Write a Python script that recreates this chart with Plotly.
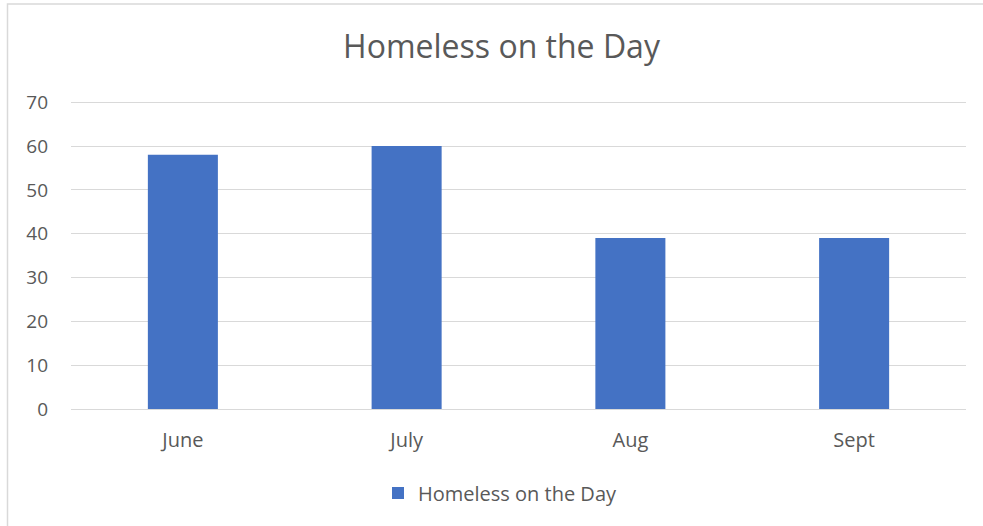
import plotly.graph_objects as go

months = ["June", "July", "Aug", "Sept"]
homeless = [58, 60, 39, 39]
series_name = "Homeless on the Day"
y_ticks = [0, 10, 20, 30, 40, 50, 60, 70]

W, H = 983, 526
L, R, T, B = 71, 17, 100.3, 117
pw = W - L - R
ph = H - T - B

def px_x(x):
    return (x - L) / pw

def px_y(y):
    return (H - B - y) / ph

font = "Open Sans"
grey = "#595959"

fig = go.Figure()
fig.add_trace(go.Bar(x=months, y=homeless, name=series_name,
                     marker=dict(color="#4472c4", line=dict(width=0))))

fig.update_layout(
    width=W, height=H,
    margin=dict(l=L, r=R, t=T, b=B),
    paper_bgcolor="white", plot_bgcolor="white",
    bargap=0.687,
    showlegend=True,
    title=dict(text="Homeless on the Day", x=501.5 / W, xanchor="center",
               xref="container",
               y=1 - 47 / H, yanchor="middle", yref="container",
               font=dict(family=font, size=32, color=grey)),
    legend=dict(orientation="h", x=px_x(378), xanchor="left",
                y=px_y(493), yanchor="middle",
                font=dict(family=font, size=20, color=grey),
                itemwidth=30, itemsizing="constant"),
    xaxis=dict(showgrid=False, showline=False, zeroline=False,
               ticks="", ticklabelstandoff=17,
               tickfont=dict(family=font, size=20, color=grey)),
    yaxis=dict(range=[0, 70.5], tickvals=y_ticks, showgrid=True,
               gridcolor="#d9d9d9", gridwidth=1, zeroline=True,
               zerolinecolor="#d9d9d9", zerolinewidth=1,
               ticks="", ticklabelstandoff=22,
               tickfont=dict(family=font, size=19, color=grey)),
    shapes=[dict(type="rect", xref="paper", yref="paper",
                 x0=px_x(7.5), x1=px_x(1100), y0=px_y(700), y1=px_y(4.5),
                 line=dict(color="#d9d9d9", width=1.5), layer="below")],
)

fig.write_html("out.html")
